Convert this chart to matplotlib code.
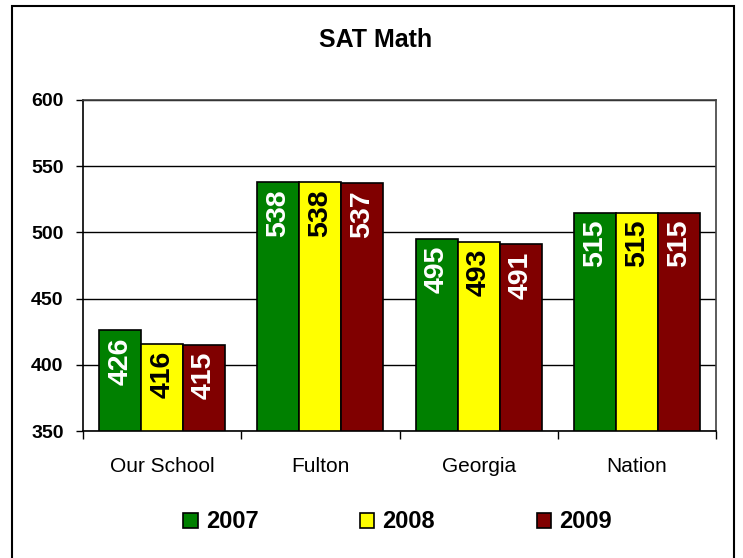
import matplotlib
matplotlib.use("Agg")
import matplotlib.pyplot as plt
import numpy as np
from matplotlib.patches import Rectangle, Patch

plt.rcParams['font.family'] = ['Liberation Sans', 'DejaVu Sans']

categories = ["Our School", "Fulton", "Georgia", "Nation"]
series_names = ["2007", "2008", "2009"]
values_2007 = [426, 538, 495, 515]
values_2008 = [416, 538, 493, 515]
values_2009 = [415, 537, 491, 515]
colors = ["#008000", "#FFFF00", "#800000"]
label_colors = ["white", "black", "white"]
yticks = [350, 400, 450, 500, 550, 600]

fig = plt.figure(figsize=(7.43, 5.58), dpi=100)
fig.patches.append(Rectangle((12/743, -0.05), (734-12)/743, 1.05 - 6/558,
                             transform=fig.transFigure, fill=False,
                             edgecolor="black", linewidth=1.5))
ax = fig.add_axes([83/743, 1-431/558, (716-83)/743, (431-100)/558])

x = np.arange(len(categories))
w = 0.265
series = [values_2007, values_2008, values_2009]
for i, (vals, c, lc, name) in enumerate(zip(series, colors, label_colors, series_names)):
    xs = x + (i-1)*w
    ax.bar(xs, np.array(vals) - 350, bottom=350, width=w, color=c, edgecolor="black",
           linewidth=1.2, zorder=3, label=name)
    for xi, v in zip(xs, vals):
        ax.annotate(str(v), xy=(xi, v), xytext=(0, -5), textcoords="offset points",
                    ha="center", va="top", rotation=90, fontsize=20.5,
                    fontweight="bold", color=lc, zorder=4)

ax.set_xlim(-0.5, 3.5)
ax.set_ylim(350, 600)
ax.set_yticks(yticks)
ax.set_yticklabels([str(t) for t in yticks], fontsize=14, fontweight="bold")
ax.yaxis.grid(True, color="black", linewidth=1.0, zorder=0)
ax.set_axisbelow(True)
ax.tick_params(axis="y", direction="out", length=5, width=1, pad=9)

ax.set_xticks(np.arange(-0.5, 4, 1.0))
ax.set_xticklabels([])
ax.set_xticks(x, minor=True)
ax.set_xticklabels(categories, minor=True, fontsize=15)
ax.tick_params(axis="x", which="major", direction="out", length=6, width=1)
ax.tick_params(axis="x", which="minor", length=0, pad=19)
for s in ax.spines.values():
    s.set_color("#404040")
    s.set_linewidth(1.2)
ax.spines["left"].set_color("black")
ax.spines["bottom"].set_color("black")

fig.text(0.505, 1-40/558, "SAT Math", ha="center", va="center", fontsize=18, fontweight="bold")

handles = [Patch(facecolor=c, edgecolor="black", linewidth=1.2) for c in colors]
fig.legend(handles, series_names, loc="center", bbox_to_anchor=(0.535, 1-522/558), ncol=3,
           frameon=False, prop={"size": 17, "weight": "bold"},
           handlelength=0.6, handleheight=0.6, handletextpad=0.35, columnspacing=4.3)

fig.savefig("out.png", dpi=100)
